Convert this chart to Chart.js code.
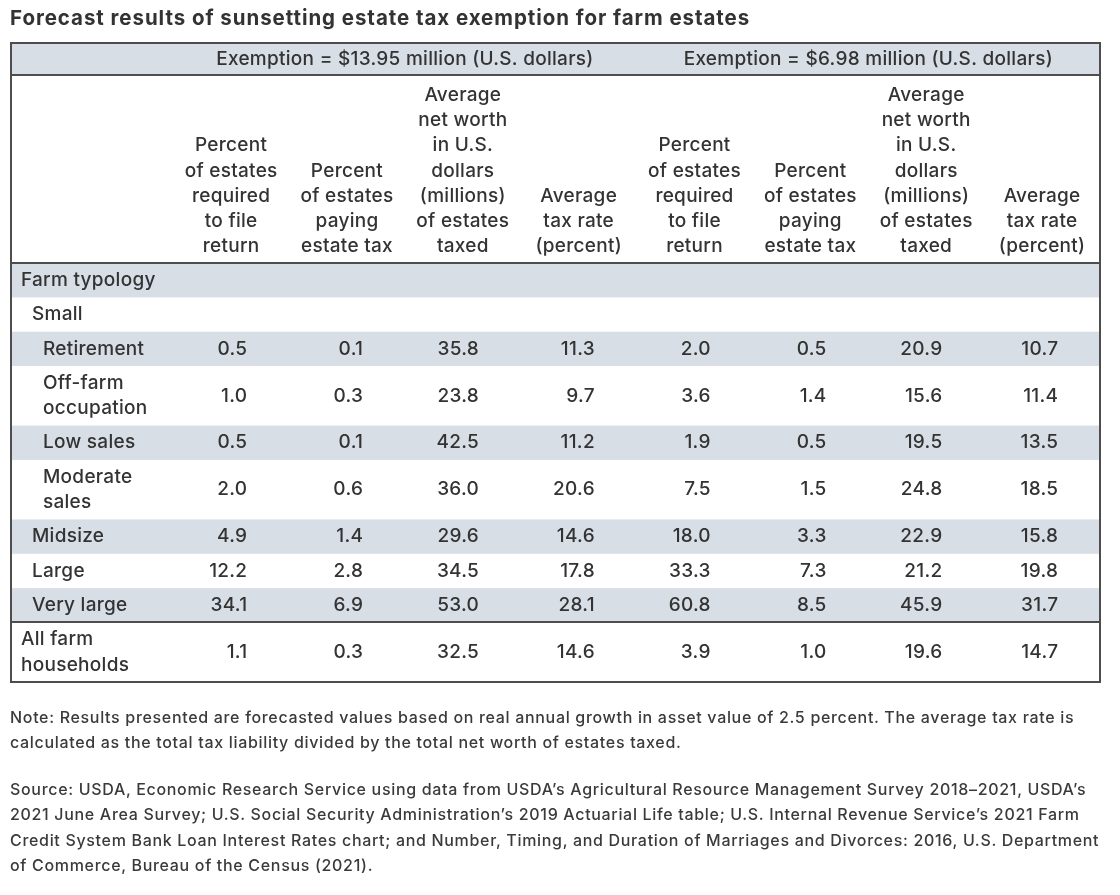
<!DOCTYPE html>
<html>
<head>
<meta charset="utf-8">
<script src="https://cdn.jsdelivr.net/npm/chart.js@4.4.1/dist/chart.umd.min.js"></script>
<style>
html, body { margin: 0; padding: 0; background: #ffffff; }
#wrap { position: relative; width: 1120px; height: 895px; overflow: hidden; }
#c { position: absolute; left: 0; top: 0; }
.title { position: absolute; left: 10px; top: 5px; font: bold 20.5px Inter, sans-serif; letter-spacing: 0.94px; color: #333333; white-space: nowrap; }
.note { position: absolute; left: 10px; font: 500 16px Inter, sans-serif; letter-spacing: 0.68px; color: #3a3a3a; line-height: 24.5px; white-space: nowrap; }
</style>
</head>
<body>
<div id="wrap">
  <canvas id="c" width="1120" height="895"></canvas>
  <div class="title" id="title"></div>
  <div class="note" id="note" style="top:705px"></div>
  <div class="note" id="source" style="top:777px; line-height:25.4px"></div>
</div>
<script>
// ---------- DATA ----------
const titleText = "Forecast results of sunsetting estate tax exemption for farm estates";
const groupHeaders = ["Exemption = $13.95 million (U.S. dollars)", "Exemption = $6.98 million (U.S. dollars)"];
const columnHeaders = [
  "Percent\nof estates\nrequired\nto file\nreturn",
  "Percent\nof estates\npaying\nestate tax",
  "Average\nnet worth\nin U.S.\ndollars\n(millions)\nof estates\ntaxed",
  "Average\ntax rate\n(percent)",
  "Percent\nof estates\nrequired\nto file\nreturn",
  "Percent\nof estates\npaying\nestate tax",
  "Average\nnet worth\nin U.S.\ndollars\n(millions)\nof estates\ntaxed",
  "Average\ntax rate\n(percent)"
];
const rowLabels = ["Farm typology", "Small", "Retirement", "Off-farm\noccupation", "Low sales", "Moderate\nsales", "Midsize", "Large", "Very large", "All farm\nhouseholds"];
const rowLevels = [0, 1, 2, 2, 2, 2, 1, 1, 1, 0];

const fileReturn1395 = [null, null, 0.5, 1.0, 0.5, 2.0, 4.9, 12.2, 34.1, 1.1];
const payingTax1395  = [null, null, 0.1, 0.3, 0.1, 0.6, 1.4, 2.8, 6.9, 0.3];
const netWorth1395   = [null, null, 35.8, 23.8, 42.5, 36.0, 29.6, 34.5, 53.0, 32.5];
const taxRate1395    = [null, null, 11.3, 9.7, 11.2, 20.6, 14.6, 17.8, 28.1, 14.6];
const fileReturn698  = [null, null, 2.0, 3.6, 1.9, 7.5, 18.0, 33.3, 60.8, 3.9];
const payingTax698   = [null, null, 0.5, 1.4, 0.5, 1.5, 3.3, 7.3, 8.5, 1.0];
const netWorth698    = [null, null, 20.9, 15.6, 19.5, 24.8, 22.9, 21.2, 45.9, 19.6];
const taxRate698     = [null, null, 10.7, 11.4, 13.5, 18.5, 15.8, 19.8, 31.7, 14.7];

const noteLines = [
  "Note: Results presented are forecasted values based on real annual growth in asset value of 2.5 percent. The average tax rate is",
  "calculated as the total tax liability divided by the total net worth of estates taxed."
];
const sourceLines = [
  "Source: USDA, Economic Research Service using data from USDA\u2019s Agricultural Resource Management Survey 2018\u20132021, USDA\u2019s",
  "2021 June Area Survey; U.S. Social Security Administration\u2019s 2019 Actuarial Life table; U.S. Internal Revenue Service\u2019s 2021 Farm",
  "Credit System Bank Loan Interest Rates chart; and Number, Timing, and Duration of Marriages and Divorces: 2016, U.S. Department",
  "of Commerce, Bureau of the Census (2021)."
];

// ---------- TEXT OUTSIDE THE TABLE ----------
document.getElementById('title').textContent = titleText;
function fillLines(id, lines) {
  const el = document.getElementById(id);
  lines.forEach((l, i) => { if (i) el.appendChild(document.createElement('br')); el.appendChild(document.createTextNode(l)); });
}
fillLines('note', noteLines);
fillLines('source', sourceLines);

// ---------- TABLE STRUCTURE (row extents in "text line" units) ----------
const columns = [fileReturn1395, payingTax1395, netWorth1395, taxRate1395, fileReturn698, payingTax698, netWorth698, taxRate698];
const PAD = 0.36;
const LABEL_COL = 1.4; // label column width, in data-column units
const headerLines = Math.max(...columnHeaders.map(h => h.split('\n').length));
const rows = [];
rows.push({ kind: 'group', lines: 1, pad: 0.26, shaded: true });
rows.push({ kind: 'colhead', lines: headerLines, pad: 0.46, shaded: false });
rowLabels.forEach((lab, i) => rows.push({ kind: 'body', index: i, lines: lab.split('\n').length, pad: PAD, shaded: i % 2 === 0 }));
let acc = 0;
rows.forEach(r => { r.top = acc; r.bottom = acc + r.lines + r.pad; r.mid = (r.top + r.bottom) / 2; acc = r.bottom; });
const totalUnits = acc;
const bodyRows = rows.filter(r => r.kind === 'body');

const TEXT = '#333333';
const SHADE = '#d7dee6';
const BORDER = '#4d4d4d';
const FONT = '500 19px Inter, sans-serif';
const LETTER = '0.28px';

const datasets = columns.map((vals, c) => ({
  label: 'col' + c,
  data: vals.map((v, i) => v == null ? null : { x: c + 0.5, y: bodyRows[i].mid, v: v }).filter(d => d),
  pointRadius: 0,
  pointHoverRadius: 0,
  showLine: false
}));

const tablePlugin = {
  id: 'tablePlugin',
  beforeDatasetsDraw(chart) {
    const { ctx, scales: { x, y } } = chart;
    const x0 = x.getPixelForValue(-LABEL_COL), x1 = x.getPixelForValue(columns.length);
    ctx.save();
    ctx.fillStyle = SHADE;
    rows.forEach(r => {
      if (!r.shaded) return;
      const t = y.getPixelForValue(r.top), b = y.getPixelForValue(r.bottom);
      ctx.fillRect(x0, t, x1 - x0, b - t);
    });
    ctx.restore();
  },
  afterDatasetsDraw(chart) {
    const { ctx, scales: { x, y } } = chart;
    const colW = x.getPixelForValue(1) - x.getPixelForValue(0);
    ctx.save();
    ctx.font = FONT;
    if ('letterSpacing' in ctx) ctx.letterSpacing = LETTER;
    ctx.fillStyle = TEXT;
    ctx.textBaseline = 'middle';

    // group headers
    const g = rows[0];
    ctx.textAlign = 'center';
    groupHeaders.forEach((t, k) => {
      ctx.fillText(t, x.getPixelForValue(k * 4 + 2), y.getPixelForValue(g.mid));
    });

    // column headers (bottom aligned)
    const h = rows[1];
    columnHeaders.forEach((t, c) => {
      const lines = t.split('\n');
      const last = h.bottom - 0.15 - 0.5;
      lines.forEach((ln, k) => {
        ctx.fillText(ln, x.getPixelForValue(c + 0.5), y.getPixelForValue(last - (lines.length - 1 - k)));
      });
    });

    // row labels
    ctx.textAlign = 'left';
    bodyRows.forEach((r, i) => {
      const lines = rowLabels[i].split('\n');
      const px = x.getPixelForValue(-LABEL_COL) + 0.086 * colW + rowLevels[i] * 0.095 * colW;
      lines.forEach((ln, k) => {
        ctx.fillText(ln, px, y.getPixelForValue(r.mid - (lines.length - 1) / 2 + k));
      });
    });

    // values, right aligned within each column
    ctx.textAlign = 'right';
    const shift = 0.14 * colW;
    chart.data.datasets.forEach((ds, di) => {
      const meta = chart.getDatasetMeta(di);
      meta.data.forEach((el, j) => {
        ctx.fillText(ds.data[j].v.toFixed(1), el.x + shift, el.y);
      });
    });

    // rules
    ctx.strokeStyle = BORDER;
    ctx.lineWidth = 2;
    const x0 = x.getPixelForValue(-LABEL_COL), x1 = x.getPixelForValue(columns.length);
    [rows[0].bottom, rows[1].bottom, bodyRows[bodyRows.length - 1].top].forEach(v => {
      const py = Math.round(y.getPixelForValue(v));
      ctx.beginPath(); ctx.moveTo(x0, py); ctx.lineTo(x1, py); ctx.stroke();
    });
    const t = y.getPixelForValue(0), b = y.getPixelForValue(totalUnits);
    ctx.strokeRect(x0, t, x1 - x0, b - t);
    ctx.restore();
  }
};

new Chart(document.getElementById('c'), {
  type: 'scatter',
  data: { datasets },
  options: {
    responsive: false,
    animation: false,
    devicePixelRatio: 1,
    layout: { padding: { left: 11, right: 20, top: 43, bottom: 213 } },
    plugins: { legend: { display: false }, tooltip: { enabled: false } },
    events: [],
    scales: {
      x: { type: 'linear', min: -LABEL_COL, max: columns.length, display: false },
      y: { type: 'linear', min: 0, max: totalUnits, reverse: true, display: false }
    }
  },
  plugins: [tablePlugin]
});
</script>
</body>
</html>
